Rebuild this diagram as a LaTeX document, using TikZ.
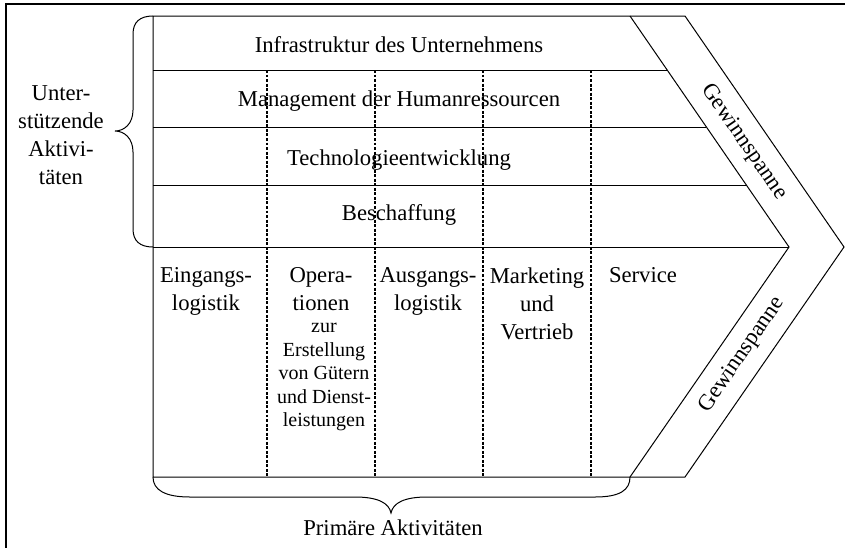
\documentclass[tikz,border=0pt]{standalone}
\usepackage{fontspec}
\setmainfont{Liberation Serif}
\newcommand{\grossschrift}{\fontsize{17}{21}\selectfont}
\newcommand{\kleinschrift}{\fontsize{15}{17.6}\selectfont}

\begin{document}
\begin{tikzpicture}[x=0.75pt,y=-0.75pt,
  txt/.style={font=\grossschrift,inner sep=0pt,align=center},
  klein/.style={font=\kleinschrift,inner sep=0pt,align=center},
  trenner/.style={dash pattern=on 2.2pt off 1.2pt,line width=0.9pt},
  every path/.style={line width=0.75pt}]

\useasboundingbox (0,0) rectangle (845,547);

% Rahmen
\draw[line width=1.5pt] (6,4) rectangle (880,590);

% Pfeilform
\draw (153,16) -- (685,16) -- (844,247) -- (685,477) -- (153,477) -- cycle;
\draw (630,16) -- (789,247) -- (630,477);

\foreach \y/\x in {70/667,127/706,185/746,247/789}
  \draw (153,\y) -- (\x,\y);

\foreach \x in {267,375,483,591}
  \draw[trenner] (\x,70) -- (\x,477);

% unterstuetzende Aktivitaeten
\node[txt,anchor=base] (infra) at (399,52)
{Infrastruktur des Unternehmens};
\node[txt,anchor=base] (personal) at (399,106)
{Management der Humanressourcen};
\node[txt,anchor=base] (technik) at (399,165)
{Technologieentwicklung};
\node[txt,anchor=base] (einkauf) at (399,220)
{Beschaffung};

% primaere Aktivitaeten
\node[txt,anchor=north] (eingang) at (206,267)
{Eingangs-\\logistik};
\node[txt,anchor=north] (operation) at (321,267)
{Opera-\\tionen};
\node[klein,anchor=north] (operation2) at (324,323)
{zur\\Erstellung\\von Gütern\\und Dienst-\\leistungen};
\node[txt,anchor=north] (ausgang) at (428,267)
{Ausgangs-\\logistik};
\node[txt,anchor=north] (marketing) at (537,267)
{Marketing\\und\\Vertrieb};
\node[txt,anchor=north] (service) at (643,267)
{Service};

% Gewinnspanne
\node[txt,rotate=-55.5] (marge1) at (744,142)
{Gewinnspanne};
\node[txt,rotate=55.5] (marge2) at (742,355)
{Gewinnspanne};

% Klammern
\draw (153,16) .. controls (140,16) and (133,22) .. (133,34)
  -- (133,110) .. controls (133,124) and (124,131) .. (115,131)
  .. controls (124,131) and (133,138) .. (133,152)
  -- (133,229) .. controls (133,241) and (140,247) .. (153,247);
\node[txt] (unterst) at (61,135)
{Unter-\\stützende\\Aktivi-\\täten};

\draw (153,477) .. controls (153,490) and (165,497) .. (190,497)
  -- (355,497) .. controls (378,497) and (389,503) .. (391,513)
  .. controls (393,503) and (404,497) .. (427,497)
  -- (595,497) .. controls (620,497) and (630,490) .. (630,477);
\node[txt,anchor=base] (primaer) at (393,535)
{Primäre Aktivitäten};

\end{tikzpicture}
\end{document}
